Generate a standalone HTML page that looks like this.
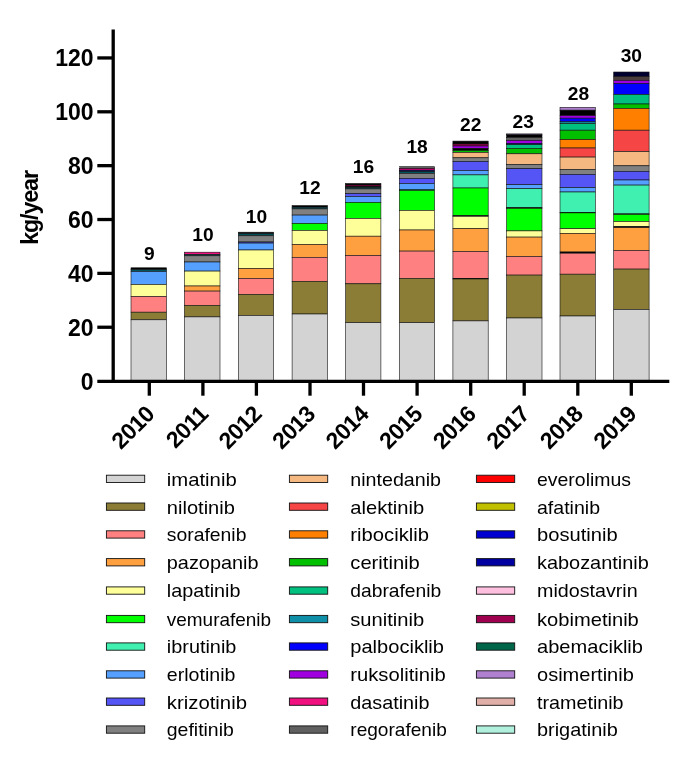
<!DOCTYPE html>
<html lang="en"><head><meta charset="utf-8"><title>kg/year</title>
<style>html,body{margin:0;padding:0;background:#fff}svg{display:block}text{font-family:"Liberation Sans",sans-serif;fill:#000}.b{font-weight:bold}</style></head><body>
<svg width="692" height="770" viewBox="0 0 692 770">
<rect width="692" height="770" fill="#fff"/>
<g stroke="#111" stroke-width="0.6">
<rect x="131.0" y="267.8" width="35.5" height="1.8" fill="#000000"/>
<rect x="131.0" y="269.6" width="35.5" height="1.9" fill="#005560"/>
<rect x="131.0" y="271.5" width="35.5" height="13.0" fill="#55a0ff"/>
<rect x="131.0" y="284.5" width="35.5" height="12.0" fill="#ffff99"/>
<rect x="131.0" y="296.5" width="35.5" height="15.7" fill="#ff8080"/>
<rect x="131.0" y="312.2" width="35.5" height="7.6" fill="#8b7d35"/>
<rect x="131.0" y="319.8" width="35.5" height="60.7" fill="#d3d3d3"/>
<rect x="184.4" y="252.2" width="35.6" height="2.2" fill="#f01080"/>
<rect x="184.4" y="254.4" width="35.6" height="1.4" fill="#005560"/>
<rect x="184.4" y="255.8" width="35.6" height="6.2" fill="#808080"/>
<rect x="184.4" y="262.0" width="35.6" height="9.1" fill="#55a0ff"/>
<rect x="184.4" y="271.1" width="35.6" height="14.9" fill="#ffff99"/>
<rect x="184.4" y="286.0" width="35.6" height="5.1" fill="#ffa040"/>
<rect x="184.4" y="291.1" width="35.6" height="14.2" fill="#ff8080"/>
<rect x="184.4" y="305.3" width="35.6" height="11.6" fill="#8b7d35"/>
<rect x="184.4" y="316.9" width="35.6" height="63.6" fill="#d3d3d3"/>
<rect x="238.4" y="232.2" width="35.3" height="1.6" fill="#000000"/>
<rect x="238.4" y="233.8" width="35.3" height="2.0" fill="#005560"/>
<rect x="238.4" y="235.8" width="35.3" height="6.2" fill="#808080"/>
<rect x="238.4" y="242.0" width="35.3" height="1.1" fill="#5555f5"/>
<rect x="238.4" y="243.1" width="35.3" height="6.9" fill="#55a0ff"/>
<rect x="238.4" y="250.0" width="35.3" height="18.5" fill="#ffff99"/>
<rect x="238.4" y="268.5" width="35.3" height="9.9" fill="#ffa040"/>
<rect x="238.4" y="278.4" width="35.3" height="16.0" fill="#ff8080"/>
<rect x="238.4" y="294.4" width="35.3" height="21.1" fill="#8b7d35"/>
<rect x="238.4" y="315.5" width="35.3" height="65.0" fill="#d3d3d3"/>
<rect x="292.1" y="205.6" width="35.4" height="1.6" fill="#000000"/>
<rect x="292.1" y="207.2" width="35.4" height="1.7" fill="#005560"/>
<rect x="292.1" y="208.9" width="35.4" height="6.2" fill="#808080"/>
<rect x="292.1" y="215.1" width="35.4" height="8.4" fill="#55a0ff"/>
<rect x="292.1" y="223.5" width="35.4" height="6.9" fill="#00ff00"/>
<rect x="292.1" y="230.4" width="35.4" height="14.1" fill="#ffff99"/>
<rect x="292.1" y="244.5" width="35.4" height="12.8" fill="#ffa040"/>
<rect x="292.1" y="257.3" width="35.4" height="24.0" fill="#ff8080"/>
<rect x="292.1" y="281.3" width="35.4" height="32.7" fill="#8b7d35"/>
<rect x="292.1" y="314.0" width="35.4" height="66.5" fill="#d3d3d3"/>
<rect x="345.6" y="183.5" width="35.3" height="1.5" fill="#000000"/>
<rect x="345.6" y="185.0" width="35.3" height="1.2" fill="#a00050"/>
<rect x="345.6" y="186.2" width="35.3" height="1.2" fill="#000000"/>
<rect x="345.6" y="187.4" width="35.3" height="1.5" fill="#005560"/>
<rect x="345.6" y="188.9" width="35.3" height="4.7" fill="#808080"/>
<rect x="345.6" y="193.6" width="35.3" height="2.9" fill="#5555f5"/>
<rect x="345.6" y="196.5" width="35.3" height="5.9" fill="#55a0ff"/>
<rect x="345.6" y="202.4" width="35.3" height="16.0" fill="#00ff00"/>
<rect x="345.6" y="218.4" width="35.3" height="17.8" fill="#ffff99"/>
<rect x="345.6" y="236.2" width="35.3" height="19.3" fill="#ffa040"/>
<rect x="345.6" y="255.5" width="35.3" height="28.3" fill="#ff8080"/>
<rect x="345.6" y="283.8" width="35.3" height="38.9" fill="#8b7d35"/>
<rect x="345.6" y="322.7" width="35.3" height="57.8" fill="#d3d3d3"/>
<rect x="399.3" y="166.7" width="35.3" height="1.6" fill="#606060"/>
<rect x="399.3" y="168.3" width="35.3" height="2.0" fill="#b00068"/>
<rect x="399.3" y="170.3" width="35.3" height="1.3" fill="#0000a0"/>
<rect x="399.3" y="171.6" width="35.3" height="1.8" fill="#005560"/>
<rect x="399.3" y="173.4" width="35.3" height="5.0" fill="#808080"/>
<rect x="399.3" y="178.4" width="35.3" height="5.1" fill="#5555f5"/>
<rect x="399.3" y="183.5" width="35.3" height="5.8" fill="#55a0ff"/>
<rect x="399.3" y="189.3" width="35.3" height="1.1" fill="#1090a8"/>
<rect x="399.3" y="190.4" width="35.3" height="20.0" fill="#00ff00"/>
<rect x="399.3" y="210.4" width="35.3" height="19.6" fill="#ffff99"/>
<rect x="399.3" y="230.0" width="35.3" height="21.1" fill="#ffa040"/>
<rect x="399.3" y="251.1" width="35.3" height="27.3" fill="#ff8080"/>
<rect x="399.3" y="278.4" width="35.3" height="44.3" fill="#8b7d35"/>
<rect x="399.3" y="322.7" width="35.3" height="57.8" fill="#d3d3d3"/>
<rect x="452.9" y="141.1" width="35.3" height="2.9" fill="#000000"/>
<rect x="452.9" y="144.0" width="35.3" height="2.0" fill="#a00050"/>
<rect x="452.9" y="146.0" width="35.3" height="2.4" fill="#a000e0"/>
<rect x="452.9" y="148.4" width="35.3" height="2.1" fill="#000000"/>
<rect x="452.9" y="150.5" width="35.3" height="1.9" fill="#00c000"/>
<rect x="452.9" y="152.4" width="35.3" height="5.4" fill="#f4b880"/>
<rect x="452.9" y="157.8" width="35.3" height="3.7" fill="#808080"/>
<rect x="452.9" y="161.5" width="35.3" height="9.0" fill="#5555f5"/>
<rect x="452.9" y="170.5" width="35.3" height="4.4" fill="#55a0ff"/>
<rect x="452.9" y="174.9" width="35.3" height="13.1" fill="#40f0b0"/>
<rect x="452.9" y="188.0" width="35.3" height="27.6" fill="#00ff00"/>
<rect x="452.9" y="215.6" width="35.3" height="0.7" fill="#000000"/>
<rect x="452.9" y="216.3" width="35.3" height="12.4" fill="#ffff99"/>
<rect x="452.9" y="228.7" width="35.3" height="22.8" fill="#ffa040"/>
<rect x="452.9" y="251.5" width="35.3" height="26.8" fill="#ff8080"/>
<rect x="452.9" y="278.3" width="35.3" height="0.7" fill="#000000"/>
<rect x="452.9" y="279.0" width="35.3" height="41.9" fill="#8b7d35"/>
<rect x="452.9" y="320.9" width="35.3" height="59.6" fill="#d3d3d3"/>
<rect x="506.6" y="133.9" width="35.4" height="1.0" fill="#b080d0"/>
<rect x="506.6" y="134.9" width="35.4" height="2.6" fill="#000000"/>
<rect x="506.6" y="137.5" width="35.4" height="2.9" fill="#606060"/>
<rect x="506.6" y="140.4" width="35.4" height="2.9" fill="#a000e0"/>
<rect x="506.6" y="143.3" width="35.4" height="1.4" fill="#0000a0"/>
<rect x="506.6" y="144.7" width="35.4" height="3.7" fill="#00c080"/>
<rect x="506.6" y="148.4" width="35.4" height="5.4" fill="#00c000"/>
<rect x="506.6" y="153.8" width="35.4" height="10.6" fill="#f4b880"/>
<rect x="506.6" y="164.4" width="35.4" height="4.3" fill="#808080"/>
<rect x="506.6" y="168.7" width="35.4" height="16.0" fill="#5555f5"/>
<rect x="506.6" y="184.7" width="35.4" height="4.0" fill="#55a0ff"/>
<rect x="506.6" y="188.7" width="35.4" height="18.9" fill="#40f0b0"/>
<rect x="506.6" y="207.6" width="35.4" height="0.7" fill="#000000"/>
<rect x="506.6" y="208.3" width="35.4" height="22.6" fill="#00ff00"/>
<rect x="506.6" y="230.9" width="35.4" height="6.2" fill="#ffff99"/>
<rect x="506.6" y="237.1" width="35.4" height="19.4" fill="#ffa040"/>
<rect x="506.6" y="256.5" width="35.4" height="18.6" fill="#ff8080"/>
<rect x="506.6" y="275.1" width="35.4" height="42.9" fill="#8b7d35"/>
<rect x="506.6" y="318.0" width="35.4" height="62.5" fill="#d3d3d3"/>
<rect x="560.0" y="107.3" width="35.3" height="2.9" fill="#b080d0"/>
<rect x="560.0" y="110.2" width="35.3" height="5.4" fill="#000000"/>
<rect x="560.0" y="115.6" width="35.3" height="2.6" fill="#a000e0"/>
<rect x="560.0" y="118.2" width="35.3" height="3.6" fill="#0000ff"/>
<rect x="560.0" y="121.8" width="35.3" height="1.8" fill="#1090a8"/>
<rect x="560.0" y="123.6" width="35.3" height="6.6" fill="#00c080"/>
<rect x="560.0" y="130.2" width="35.3" height="9.4" fill="#00c000"/>
<rect x="560.0" y="139.6" width="35.3" height="8.4" fill="#ff8000"/>
<rect x="560.0" y="148.0" width="35.3" height="9.1" fill="#f54545"/>
<rect x="560.0" y="157.1" width="35.3" height="12.4" fill="#f4b880"/>
<rect x="560.0" y="169.5" width="35.3" height="5.0" fill="#808080"/>
<rect x="560.0" y="174.5" width="35.3" height="13.1" fill="#5555f5"/>
<rect x="560.0" y="187.6" width="35.3" height="4.4" fill="#55a0ff"/>
<rect x="560.0" y="192.0" width="35.3" height="20.4" fill="#40f0b0"/>
<rect x="560.0" y="212.4" width="35.3" height="0.5" fill="#000000"/>
<rect x="560.0" y="212.9" width="35.3" height="15.8" fill="#00ff00"/>
<rect x="560.0" y="228.7" width="35.3" height="4.8" fill="#ffff99"/>
<rect x="560.0" y="233.5" width="35.3" height="18.5" fill="#ffa040"/>
<rect x="560.0" y="252.0" width="35.3" height="1.2" fill="#000000"/>
<rect x="560.0" y="253.2" width="35.3" height="21.0" fill="#ff8080"/>
<rect x="560.0" y="274.2" width="35.3" height="41.8" fill="#8b7d35"/>
<rect x="560.0" y="316.0" width="35.3" height="64.5" fill="#d3d3d3"/>
<rect x="613.7" y="72.0" width="35.4" height="4.7" fill="#000030"/>
<rect x="613.7" y="76.7" width="35.4" height="3.7" fill="#4a3c3c"/>
<rect x="613.7" y="80.4" width="35.4" height="3.2" fill="#a000e0"/>
<rect x="613.7" y="83.6" width="35.4" height="10.9" fill="#0000ff"/>
<rect x="613.7" y="94.5" width="35.4" height="9.5" fill="#00c080"/>
<rect x="613.7" y="104.0" width="35.4" height="4.4" fill="#00c000"/>
<rect x="613.7" y="108.4" width="35.4" height="21.8" fill="#ff8000"/>
<rect x="613.7" y="130.2" width="35.4" height="21.4" fill="#f54545"/>
<rect x="613.7" y="151.6" width="35.4" height="14.2" fill="#f4b880"/>
<rect x="613.7" y="165.8" width="35.4" height="5.5" fill="#808080"/>
<rect x="613.7" y="171.3" width="35.4" height="8.7" fill="#5555f5"/>
<rect x="613.7" y="180.0" width="35.4" height="5.1" fill="#55a0ff"/>
<rect x="613.7" y="185.1" width="35.4" height="28.8" fill="#40f0b0"/>
<rect x="613.7" y="213.9" width="35.4" height="0.5" fill="#000000"/>
<rect x="613.7" y="214.4" width="35.4" height="7.1" fill="#00ff00"/>
<rect x="613.7" y="221.5" width="35.4" height="5.0" fill="#ffff99"/>
<rect x="613.7" y="226.5" width="35.4" height="1.2" fill="#000000"/>
<rect x="613.7" y="227.7" width="35.4" height="22.8" fill="#ffa040"/>
<rect x="613.7" y="250.5" width="35.4" height="18.6" fill="#ff8080"/>
<rect x="613.7" y="269.1" width="35.4" height="40.4" fill="#8b7d35"/>
<rect x="613.7" y="309.5" width="35.4" height="71.0" fill="#d3d3d3"/>
</g>
<g stroke="#000" stroke-width="3.3" fill="none">
<path d="M113.2 29.4V382.9"/>
<path d="M97.3 381.3H669.3"/>
<path d="M97.3 327.24H113"/>
<path d="M97.3 273.38H113"/>
<path d="M97.3 219.52H113"/>
<path d="M97.3 165.66H113"/>
<path d="M97.3 111.80H113"/>
<path d="M97.3 57.94H113"/>
<path d="M149.3 381.35V395.7"/>
<path d="M202.9 381.35V395.7"/>
<path d="M256.4 381.35V395.7"/>
<path d="M310.0 381.35V395.7"/>
<path d="M363.5 381.35V395.7"/>
<path d="M417.1 381.35V395.7"/>
<path d="M470.7 381.35V395.7"/>
<path d="M524.2 381.35V395.7"/>
<path d="M577.8 381.35V395.7"/>
<path d="M631.3 381.35V395.7"/>
</g>
<g class="b" font-size="23" text-anchor="end">
<text x="93.6" y="389.5">0</text>
<text x="93.6" y="335.6">20</text>
<text x="93.6" y="281.8">40</text>
<text x="93.6" y="227.9">60</text>
<text x="93.6" y="174.1">80</text>
<text x="93.6" y="120.2">100</text>
<text x="93.6" y="66.3">120</text>
</g>
<text class="b" font-size="23.3" text-anchor="middle" textLength="74.8" transform="translate(37.7 207.4) rotate(-90)">kg/year</text>
<g class="b" font-size="23" text-anchor="end" letter-spacing="-0.5">
<text transform="translate(155.8 415.5) rotate(-45)">2010</text>
<text transform="translate(209.4 415.5) rotate(-45)">2011</text>
<text transform="translate(262.9 415.5) rotate(-45)">2012</text>
<text transform="translate(316.5 415.5) rotate(-45)">2013</text>
<text transform="translate(370.0 415.5) rotate(-45)">2014</text>
<text transform="translate(423.6 415.5) rotate(-45)">2015</text>
<text transform="translate(477.2 415.5) rotate(-45)">2016</text>
<text transform="translate(530.7 415.5) rotate(-45)">2017</text>
<text transform="translate(584.3 415.5) rotate(-45)">2018</text>
<text transform="translate(637.8 415.5) rotate(-45)">2019</text>
</g>
<g class="b" font-size="19.2" text-anchor="middle">
<text x="149.3" y="260.0">9</text>
<text x="202.9" y="241.0">10</text>
<text x="256.4" y="222.8">10</text>
<text x="310.0" y="193.9">12</text>
<text x="363.5" y="172.7">16</text>
<text x="417.1" y="152.8">18</text>
<text x="470.7" y="130.8">22</text>
<text x="523.2" y="128.3">23</text>
<text x="578.5" y="99.5">28</text>
<text x="631.3" y="62.3">30</text>
</g>
<g stroke="#111" stroke-width="0.9">
<rect x="106.4" y="475.2" width="38.3" height="7.3" fill="#d3d3d3"/>
<rect x="106.4" y="503.0" width="38.3" height="7.3" fill="#8b7d35"/>
<rect x="106.4" y="530.8" width="38.3" height="7.3" fill="#ff8080"/>
<rect x="106.4" y="558.6" width="38.3" height="7.3" fill="#ffa040"/>
<rect x="106.4" y="586.9" width="38.3" height="7.3" fill="#ffff99"/>
<rect x="106.4" y="615.4" width="38.3" height="7.3" fill="#00ff00"/>
<rect x="106.4" y="642.9" width="38.3" height="7.3" fill="#40f0b0"/>
<rect x="106.4" y="670.8" width="38.3" height="7.3" fill="#55a0ff"/>
<rect x="106.4" y="698.0" width="38.3" height="7.3" fill="#5555f5"/>
<rect x="106.4" y="725.9" width="38.3" height="7.3" fill="#808080"/>
<rect x="289.4" y="475.2" width="38.3" height="7.3" fill="#f4b880"/>
<rect x="289.4" y="503.0" width="38.3" height="7.3" fill="#f54545"/>
<rect x="289.4" y="530.8" width="38.3" height="7.3" fill="#ff8000"/>
<rect x="289.4" y="558.6" width="38.3" height="7.3" fill="#00c000"/>
<rect x="289.4" y="586.9" width="38.3" height="7.3" fill="#00c080"/>
<rect x="289.4" y="615.4" width="38.3" height="7.3" fill="#1090a8"/>
<rect x="289.4" y="642.9" width="38.3" height="7.3" fill="#0000ff"/>
<rect x="289.4" y="670.8" width="38.3" height="7.3" fill="#a000e0"/>
<rect x="289.4" y="698.0" width="38.3" height="7.3" fill="#f01080"/>
<rect x="289.4" y="725.9" width="38.3" height="7.3" fill="#606060"/>
<rect x="476.4" y="475.2" width="38.3" height="7.3" fill="#ff0000"/>
<rect x="476.4" y="503.0" width="38.3" height="7.3" fill="#c0c000"/>
<rect x="476.4" y="530.8" width="38.3" height="7.3" fill="#0000d0"/>
<rect x="476.4" y="558.6" width="38.3" height="7.3" fill="#0000a0"/>
<rect x="476.4" y="586.9" width="38.3" height="7.3" fill="#ffc0e0"/>
<rect x="476.4" y="615.4" width="38.3" height="7.3" fill="#a00050"/>
<rect x="476.4" y="642.9" width="38.3" height="7.3" fill="#00664a"/>
<rect x="476.4" y="670.8" width="38.3" height="7.3" fill="#b080d0"/>
<rect x="476.4" y="698.0" width="38.3" height="7.3" fill="#e0b0a8"/>
<rect x="476.4" y="725.9" width="38.3" height="7.3" fill="#b0f0dc"/>
</g>
<g font-size="18.5" lengthAdjust="spacingAndGlyphs">
<text x="166.8" y="485.8" textLength="69.9" lengthAdjust="spacingAndGlyphs">imatinib</text>
<text x="166.8" y="513.5" textLength="68.1" lengthAdjust="spacingAndGlyphs">nilotinib</text>
<text x="166.8" y="541.3" textLength="79.6" lengthAdjust="spacingAndGlyphs">sorafenib</text>
<text x="166.8" y="569.1" textLength="91.7" lengthAdjust="spacingAndGlyphs">pazopanib</text>
<text x="166.8" y="597.4" textLength="73.7" lengthAdjust="spacingAndGlyphs">lapatinib</text>
<text x="166.8" y="625.9" textLength="104.3" lengthAdjust="spacingAndGlyphs">vemurafenib</text>
<text x="166.8" y="653.4" textLength="69.6" lengthAdjust="spacingAndGlyphs">ibrutinib</text>
<text x="166.8" y="681.3" textLength="68.6" lengthAdjust="spacingAndGlyphs">erlotinib</text>
<text x="166.8" y="708.5" textLength="80.2" lengthAdjust="spacingAndGlyphs">krizotinib</text>
<text x="166.8" y="736.4" textLength="67.0" lengthAdjust="spacingAndGlyphs">gefitinib</text>
<text x="350.3" y="485.8" textLength="90.7" lengthAdjust="spacingAndGlyphs">nintedanib</text>
<text x="350.3" y="513.5" textLength="73.9" lengthAdjust="spacingAndGlyphs">alektinib</text>
<text x="350.3" y="541.3" textLength="78.7" lengthAdjust="spacingAndGlyphs">ribociklib</text>
<text x="350.3" y="569.1" textLength="69.5" lengthAdjust="spacingAndGlyphs">ceritinib</text>
<text x="350.3" y="597.4" textLength="90.9" lengthAdjust="spacingAndGlyphs">dabrafenib</text>
<text x="350.3" y="625.9" textLength="73.9" lengthAdjust="spacingAndGlyphs">sunitinib</text>
<text x="350.3" y="653.4" textLength="93.7" lengthAdjust="spacingAndGlyphs">palbociklib</text>
<text x="350.3" y="681.3" textLength="95.4" lengthAdjust="spacingAndGlyphs">ruksolitinib</text>
<text x="350.3" y="708.5" textLength="79.2" lengthAdjust="spacingAndGlyphs">dasatinib</text>
<text x="350.3" y="736.4" textLength="96.5" lengthAdjust="spacingAndGlyphs">regorafenib</text>
<text x="537.0" y="485.8" textLength="94.0" lengthAdjust="spacingAndGlyphs">everolimus</text>
<text x="537.0" y="513.5" textLength="63.0" lengthAdjust="spacingAndGlyphs">afatinib</text>
<text x="537.0" y="541.3" textLength="80.6" lengthAdjust="spacingAndGlyphs">bosutinib</text>
<text x="537.0" y="569.1" textLength="111.8" lengthAdjust="spacingAndGlyphs">kabozantinib</text>
<text x="537.0" y="597.4" textLength="100.7" lengthAdjust="spacingAndGlyphs">midostavrin</text>
<text x="537.0" y="625.9" textLength="101.8" lengthAdjust="spacingAndGlyphs">kobimetinib</text>
<text x="537.0" y="653.4" textLength="106.0" lengthAdjust="spacingAndGlyphs">abemaciklib</text>
<text x="537.0" y="681.3" textLength="96.8" lengthAdjust="spacingAndGlyphs">osimertinib</text>
<text x="537.0" y="708.5" textLength="86.6" lengthAdjust="spacingAndGlyphs">trametinib</text>
<text x="537.0" y="736.4" textLength="80.7" lengthAdjust="spacingAndGlyphs">brigatinib</text>
</g>
</svg></body></html>
